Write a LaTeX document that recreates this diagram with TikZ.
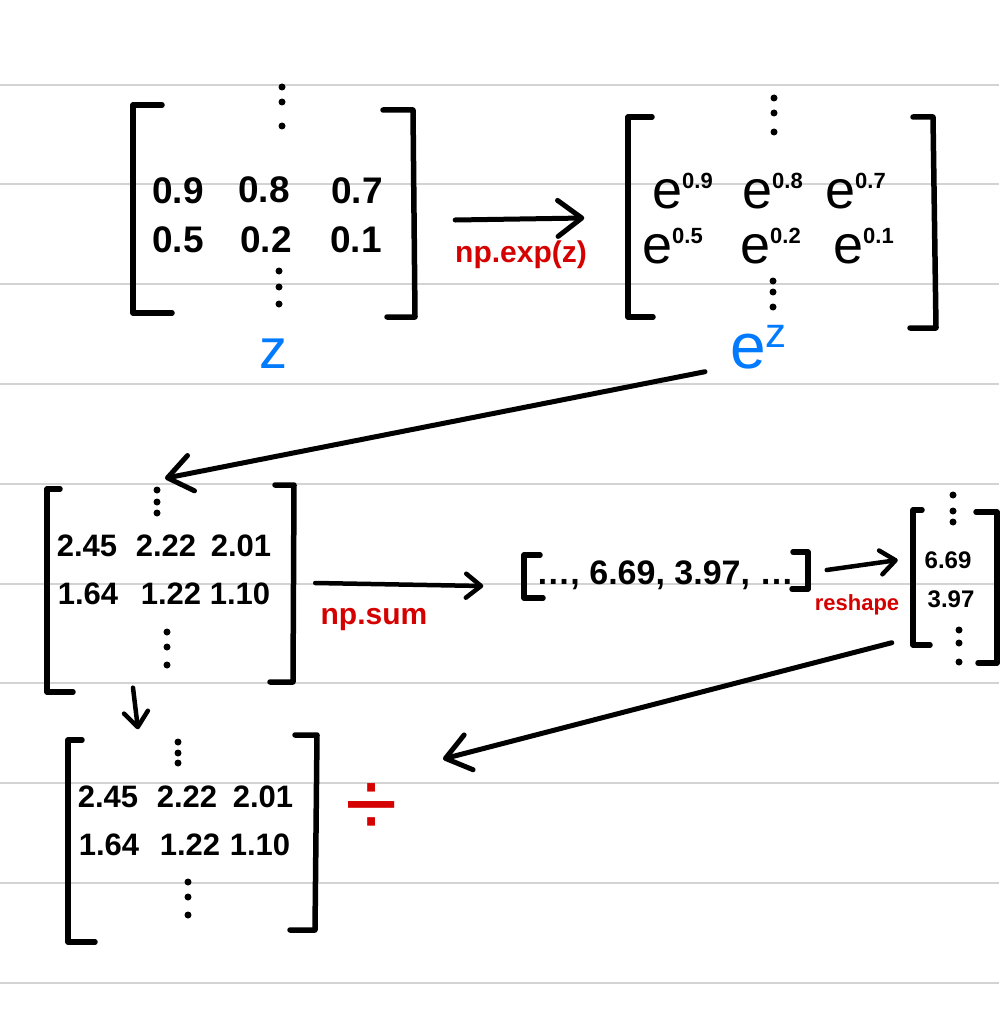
\documentclass[tikz,border=0pt]{standalone}
\usepackage{fontspec}
\setmainfont{Liberation Sans}
\usetikzlibrary{arrows.meta,positioning}
\definecolor{inkred}{RGB}{213,0,0}
\definecolor{inkblue}{RGB}{0,122,255}
\definecolor{ruled}{RGB}{211,211,211}
\newcommand\epow[1]{{\fontsize{54}{54}\selectfont e}\raisebox{20pt}{\bfseries\fontsize{22}{22}\selectfont #1}}

\begin{document}
\begin{tikzpicture}[x=1pt,y=-1pt,
  brk/.style={line width=5.5pt, line cap=round, line join=round},
  arr/.style={line width=5pt, line cap=round, -{Straight Barb[length=24pt,width=36pt,round]}},
  smallarr/.style={line width=4.5pt, line cap=round, -{Straight Barb[length=15pt,width=24pt,round]}},
  num/.style={font=\bfseries\fontsize{31}{31}\selectfont, inner sep=0pt},
  bignum/.style={font=\bfseries\fontsize{37}{37}\selectfont, inner sep=0pt},
  vecnum/.style={font=\bfseries\fontsize{24}{24}\selectfont, inner sep=0pt},
  oplabel/.style={font=\bfseries\fontsize{30}{30}\selectfont, text=inkred, inner sep=0pt}]
% Ruled paper
\fill[white] (0,0) rectangle (999,1011);
\useasboundingbox (0,0) rectangle (999,1011);
\foreach \y in {85,184,284,384,484,584,683,783,883,983}
  \draw[ruled, line width=2.5pt] (0,\y) -- (999,\y);

% Matrix z
\node[minimum width=282pt, minimum height=212pt] (zmat) at (274,211) {};
\draw[brk] (162,105) -- (133,105) -- (133,313) -- (172,313);
\draw[brk] (383,110) -- (413,110) -- (415,317) -- (387,317);
\foreach \v/\x/\y [count=\i] in {0.9/178/191, 0.8/264/190, 0.7/357/191, 0.5/178/240, 0.2/266/240, 0.1/356/240}
  \node[bignum] (z\i) at (\x,\y) {\v};
\foreach \x/\y in {282/87, 282/102, 282/126, 279/271, 279/287, 279/304}
  \fill (\x,\y) circle (3.5pt);
\node[font=\fontsize{56}{56}\selectfont, text=inkblue, inner sep=0pt] (zlbl) at (273,354) {z};

% Matrix e^z
\node[minimum width=307pt, minimum height=211pt] (ezmat) at (781,222) {};
\draw[brk] (652,117) -- (628,117) -- (628,317) -- (653,317);
\draw[brk] (913,117) -- (933,117) -- (936,328) -- (910,328);
\foreach \v/\x/\y [count=\i] in {0.9/652/208, 0.8/742/208, 0.7/825/208, 0.5/642/263, 0.2/740/263, 0.1/833/263}
  \node[inner sep=0pt, anchor=base west] (ez\i) at (\x,\y) {\epow{\v}};
\foreach \x/\y in {774/98, 774/113, 774/132, 773/281, 773/292, 773/307}
  \fill (\x,\y) circle (3.5pt);
\node[inner sep=0pt, text=inkblue, anchor=base west] (ezlbl) at (730,368)
  {{\fontsize{64}{64}\selectfont e}\raisebox{21pt}{\fontsize{42}{42}\selectfont z}};

% np.exp
\draw[arr] ([shift={(40,9)}]zmat.east) -- ([shift={(-43,-4)}]ezmat.west);
\node[oplabel] (explbl) at (521,255) {np.exp(z)};

% Matrix of exponentials
\node[minimum width=248pt, minimum height=207pt] (expmat) at (171,588) {};
\draw[brk] (60,489) -- (47,489) -- (47,692) -- (73,692);
\draw[brk] (275,485) -- (294,485) -- (293,682) -- (270,682);
\foreach \v/\x/\y [count=\i] in {2.45/87/546, 2.22/166/546, 2.01/241/546, 1.64/88/594, 1.22/171/594, 1.10/240/594}
  \node[num] (ev\i) at (\x,\y) {\v};
\foreach \x/\y in {157/490, 157/502, 157/513, 167/632, 167/647, 167/665}
  \fill (\x,\y) circle (3.5pt);
\draw[arr] ([shift={(-76,44)}]ezmat.south) -- ([shift={(-6,-6)}]expmat.north);

% np.sum
\node[font=\bfseries\fontsize{34}{34}\selectfont, inner sep=0pt] (vec) at (665,575) {…, 6.69, 3.97, …};
\draw[brk] (540,555) -- (524,555) -- (524,598) -- (543,598);
\draw[brk] (793,552) -- (808,552) -- (808,589) -- (792,589);
\draw[smallarr] ([shift={(20,-5)}]expmat.east) -- ([shift={(-53,11)}]vec.west);
\node[oplabel] (sumlbl) at (374,620) {np.sum};

% reshape
\node[minimum width=84pt, minimum height=153pt] (colmat) at (955,586) {};
\draw[brk] (922,510) -- (913,510) -- (913,645) -- (930,645);
\draw[brk] (976,512) -- (997,512) -- (997,663) -- (978,663);
\node[vecnum] (cv1) at (948,560) {6.69};
\node[vecnum] (cv2) at (951,599) {3.97};
\foreach \x/\y in {953/495, 953/511, 953/522, 959/630, 959/643, 959/662}
  \fill (\x,\y) circle (3.5pt);
\draw[smallarr] ([shift={(33,-5)}]vec.east) -- ([shift={(-15,-26)}]colmat.west);
\node[font=\bfseries\fontsize{22}{22}\selectfont, text=inkred, inner sep=0pt] (rslbl) at (857,605) {reshape};

% Division
\node[minimum width=249pt, minimum height=207pt] (divmat) at (192,838) {};
\draw[brk] (82,740) -- (68,740) -- (68,942) -- (95,942);
\draw[brk] (295,735) -- (317,735) -- (315,930) -- (290,930);
\foreach \v/\x/\y [count=\i] in {2.45/108/797, 2.22/187/797, 2.01/263/797, 1.64/109/845, 1.22/190/845, 1.10/260/845}
  \node[num] (dv\i) at (\x,\y) {\v};
\foreach \x/\y in {178/742, 178/753, 178/763, 188/882, 188/897, 188/915}
  \fill (\x,\y) circle (3.5pt);
\node[text=inkred, font=\fontsize{95}{95}\selectfont, inner sep=0pt] (divsign) at (372,810) {÷};
\draw[smallarr] ([shift={(-38,-4)}]expmat.south) -- ([shift={(-54,-5)}]divmat.north);
\draw[arr] ([shift={(-21,-20)}]colmat.south west) -- ([shift={(71,-51)}]divsign.center);
\end{tikzpicture}
\end{document}
